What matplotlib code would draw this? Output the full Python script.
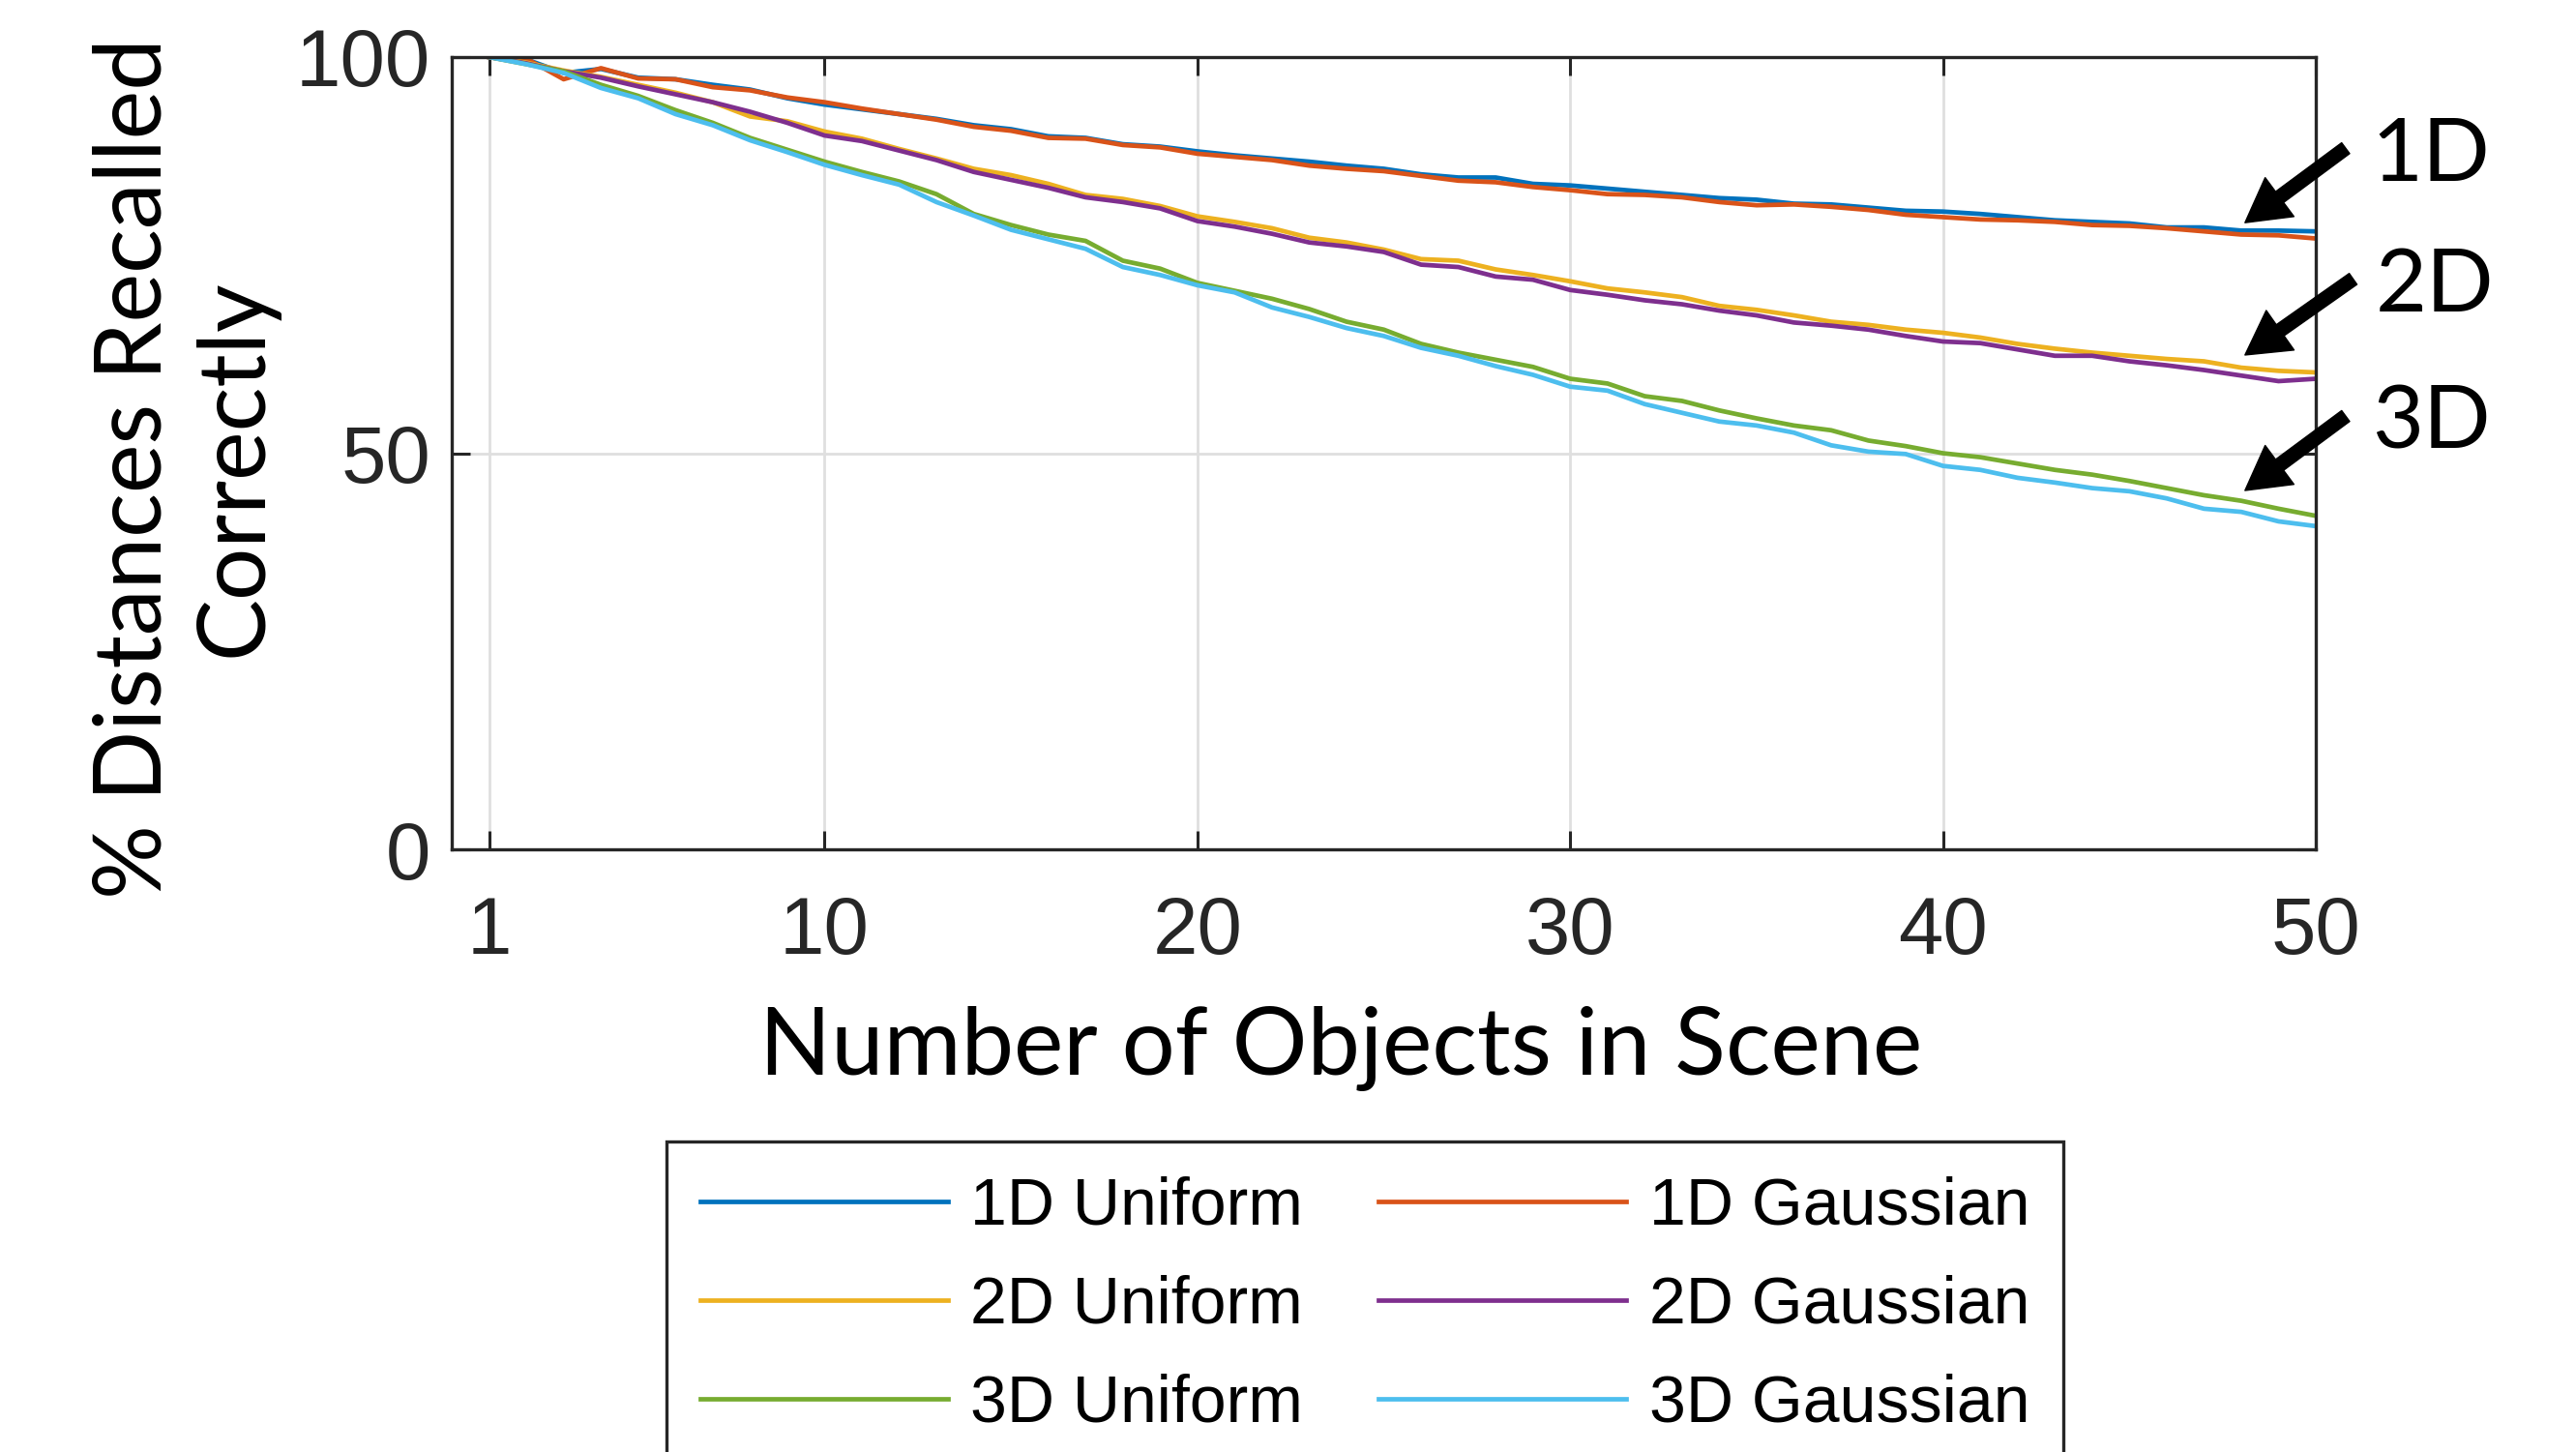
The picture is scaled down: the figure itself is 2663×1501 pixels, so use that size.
import matplotlib
matplotlib.use("Agg")
import matplotlib.pyplot as plt

# number of objects in the scene
n_objects = list(range(1, 51))

uniform_1d = [100, 99.7, 98.0, 98.5, 97.4, 97.2, 96.5, 95.9, 94.8, 94.0,
              93.4, 92.8, 92.2, 91.4, 90.9, 90.0, 89.8, 89.0, 88.7, 88.1,
              87.6, 87.2, 86.8, 86.3, 85.9, 85.2, 84.8, 84.8, 84.0, 83.8,
              83.4, 83.0, 82.6, 82.2, 82.0, 81.5, 81.4, 81.0, 80.6, 80.5,
              80.2, 79.8, 79.4, 79.2, 79.0, 78.5, 78.5, 78.1, 78.1, 78.0]
gaussian_1d = [100, 99.8, 97.2, 98.6, 97.3, 97.2, 96.2, 95.8, 94.9, 94.3,
               93.5, 92.8, 92.1, 91.2, 90.7, 89.8, 89.7, 88.9, 88.6, 87.8,
               87.4, 87.0, 86.3, 85.9, 85.6, 85.0, 84.4, 84.2, 83.6, 83.2,
               82.7, 82.6, 82.3, 81.7, 81.3, 81.4, 81.1, 80.7, 80.1, 79.8,
               79.5, 79.4, 79.2, 78.8, 78.7, 78.4, 78.0, 77.6, 77.5, 77.1]
uniform_2d = [100, 99.3, 98.3, 97.5, 96.5, 95.5, 94.3, 92.5, 91.9, 90.6,
              89.7, 88.4, 87.2, 85.9, 85.1, 84.0, 82.6, 82.1, 81.2, 79.9,
              79.2, 78.4, 77.2, 76.6, 75.7, 74.5, 74.3, 73.2, 72.5, 71.7,
              70.8, 70.3, 69.7, 68.6, 68.1, 67.4, 66.6, 66.2, 65.6, 65.2,
              64.6, 63.8, 63.2, 62.7, 62.3, 61.9, 61.6, 60.8, 60.4, 60.2]
gaussian_2d = [100, 99.2, 98.2, 97.4, 96.3, 95.3, 94.3, 93.1, 91.7, 90.1,
               89.4, 88.2, 87.0, 85.5, 84.5, 83.5, 82.3, 81.7, 80.9, 79.3,
               78.6, 77.7, 76.6, 76.1, 75.4, 73.8, 73.5, 72.3, 71.9, 70.6,
               70.0, 69.3, 68.8, 68.0, 67.4, 66.5, 66.1, 65.6, 64.8, 64.1,
               63.9, 63.1, 62.3, 62.3, 61.6, 61.1, 60.5, 59.8, 59.1, 59.4]
uniform_3d = [100, 99.1, 98.2, 96.5, 95.1, 93.3, 91.7, 89.8, 88.3, 86.8,
              85.5, 84.3, 82.7, 80.2, 78.8, 77.6, 76.8, 74.3, 73.3, 71.5,
              70.5, 69.5, 68.2, 66.6, 65.6, 63.8, 62.7, 61.8, 60.9, 59.4,
              58.8, 57.2, 56.6, 55.4, 54.4, 53.5, 52.9, 51.6, 50.9, 50.0,
              49.5, 48.7, 47.9, 47.3, 46.5, 45.6, 44.7, 44.0, 43.0, 42.1]
gaussian_3d = [100, 99.1, 98.0, 96.1, 94.8, 92.8, 91.4, 89.5, 88.0, 86.4,
               85.1, 83.9, 81.7, 80.0, 78.2, 77.0, 75.8, 73.5, 72.5, 71.2,
               70.3, 68.4, 67.2, 65.8, 64.8, 63.3, 62.3, 61.0, 59.9, 58.4,
               57.9, 56.2, 55.1, 54.0, 53.5, 52.6, 51.0, 50.2, 49.9, 48.4,
               47.9, 46.9, 46.3, 45.6, 45.2, 44.3, 43.0, 42.6, 41.4, 40.8]

series_names = ["1D Uniform", "1D Gaussian", "2D Uniform",
                "2D Gaussian", "3D Uniform", "3D Gaussian"]
series_values = [uniform_1d, gaussian_1d, uniform_2d,
                 gaussian_2d, uniform_3d, gaussian_3d]
series_colors = ["#0072BD", "#D95319", "#EDB120",
                 "#7E2F8E", "#77AC30", "#4DBEEE"]

x_ticks = [1, 10, 20, 30, 40, 50]
y_ticks = [0, 50, 100]

# arrow annotations: label, text anchor, arrow tail, arrow tip (data coords)
dim_labels = ["1D", "2D", "3D"]
label_pos = [(51.5, 84.4), (51.6, 67.9), (51.5, 50.6)]
arrow_tail = [(50.8, 88.5), (51.0, 72.0), (50.8, 54.7)]
arrow_tip = [(48.1, 79.1), (48.1, 62.4), (48.1, 45.3)]

tick_font = "Liberation Sans"
label_font = "Lato"
axis_gray = "#262626"

fig = plt.figure(figsize=(26.63, 15.01), dpi=100)
ax = fig.add_axes([0.1754, 0.415, 0.7236, 0.5457])

handles = []
for name, vals, col in zip(series_names, series_values, series_colors):
    h, = ax.plot(n_objects, vals, color=col, lw=3.4, label=name)
    handles.append(h)

ax.set_xlim(0, 50)
ax.set_ylim(0, 100)
ax.set_xticks(x_ticks)
ax.set_yticks(y_ticks)
ax.grid(True, color="#DFDFDF", lw=2.0)
ax.set_axisbelow(True)

for s in ax.spines.values():
    s.set_color(axis_gray)
    s.set_linewidth(2.4)

ax.tick_params(axis="both", direction="in", length=14, width=2.2,
               color=axis_gray, labelcolor=axis_gray, labelsize=60,
               top=True, right=True)
ax.tick_params(axis="x", pad=34)
ax.tick_params(axis="y", pad=16)
for lab in ax.get_xticklabels() + ax.get_yticklabels():
    lab.set_family(tick_font)

ax.set_xlabel("Number of Objects in Scene", family=label_font,
              fontsize=70, va="center")
ax.xaxis.set_label_coords(0.477, -0.252)
ax.set_ylabel("% Distances Recalled\nCorrectly", family=label_font,
              fontsize=69, va="center", ha="center", linespacing=1.22)
ax.yaxis.set_label_coords(-0.143, 0.481)

for lbl, tpos, tail, tip in zip(dim_labels, label_pos, arrow_tail, arrow_tip):
    ax.annotate("", xy=tip, xytext=tail, annotation_clip=False,
                arrowprops=dict(facecolor="black", edgecolor="black",
                                width=10, headwidth=36, headlength=32,
                                shrink=0))
    ax.text(tpos[0], tpos[1], lbl, family=label_font, fontsize=66,
            ha="left", va="baseline", clip_on=False)

# MATLAB fills the legend row by row
order = [0, 2, 4, 1, 3, 5]
leg = ax.legend([handles[i] for i in order], [series_names[i] for i in order],
                ncol=2, loc="upper left",
                bbox_to_anchor=(0.2587, 0.2139),
                bbox_transform=fig.transFigure, borderaxespad=0,
                prop={"family": tick_font, "size": 49},
                handlelength=3.75, handletextpad=0.35, columnspacing=1.15,
                labelspacing=0.56, borderpad=0.52, fancybox=False,
                framealpha=1)
leg.get_frame().set_edgecolor(axis_gray)
leg.get_frame().set_linewidth(2.4)
for line in leg.get_lines():
    line.set_linewidth(3.4)

fig.savefig("out.png", dpi=100)
